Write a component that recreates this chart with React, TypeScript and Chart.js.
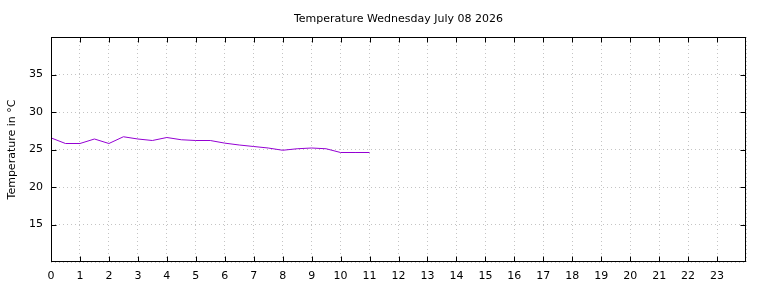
import { useEffect, useRef } from 'react';
import { Chart, registerables } from 'chart.js';

Chart.register(...registerables);

const chartTitle = 'Temperature Wednesday July 08 2026';
const yAxisTitle = 'Temperature in °C';

const hours = [0, 0.5, 1, 1.5, 2, 2.5, 3, 3.5, 4, 4.5, 5, 5.5, 6, 6.5, 7, 7.5, 8, 8.5, 9, 9.5, 10, 10.5, 11];
const temps = [26.55, 25.8, 25.8, 26.4, 25.8, 26.7, 26.4, 26.2, 26.6, 26.3, 26.2, 26.2, 25.85, 25.6, 25.4, 25.2, 24.9, 25.1, 25.2, 25.1, 24.6, 24.6, 24.6];

const xTickValues = [0, 1, 2, 3, 4, 5, 6, 7, 8, 9, 10, 11, 12, 13, 14, 15, 16, 17, 18, 19, 20, 21, 22, 23];
const yTickValues = [15, 20, 25, 30, 35];

const X_MIN = 0;
const X_MAX = 24;
const Y_MIN = 10;
const Y_MAX = 40;

const FONT = 'DejaVu Sans';

const framePlugin = {
  id: 'gnuplotFrame',
  afterDatasetsDraw(chart: any) {
    const { ctx, chartArea: a, scales } = chart;
    const L = Math.round(a.left) + 0.5;
    const R = Math.round(a.right) - 0.5;
    const T = Math.round(a.top) + 0.5;
    const B = Math.round(a.bottom) - 0.5;
    const tl = 5;
    ctx.save();
    ctx.strokeStyle = '#000000';
    ctx.lineWidth = 1;
    ctx.setLineDash([]);
    ctx.beginPath();
    for (const v of xTickValues) {
      if (v === X_MIN) continue;
      const px = Math.round(scales.x.getPixelForValue(v)) + 0.5;
      ctx.moveTo(px, B);
      ctx.lineTo(px, B - tl);
      ctx.moveTo(px, T);
      ctx.lineTo(px, T + tl);
    }
    for (const v of yTickValues) {
      const py = Math.round(scales.y.getPixelForValue(v)) + 0.5;
      ctx.moveTo(L, py);
      ctx.lineTo(L + tl, py);
      ctx.moveTo(R, py);
      ctx.lineTo(R - tl, py);
    }
    ctx.stroke();
    ctx.strokeRect(L, T, R - L, B - T);

    // title centred over the plot area
    ctx.fillStyle = '#000000';
    ctx.font = `11px "${FONT}"`;
    ctx.textAlign = 'center';
    ctx.textBaseline = 'middle';
    ctx.fillText(chartTitle, (a.left + a.right) / 2, 19);
    ctx.restore();
  },
};

export default function App() {
  const canvasRef = useRef<HTMLCanvasElement | null>(null);

  useEffect(() => {
    const canvas = canvasRef.current;
    if (!canvas) return;
    const gridColor = '#c4c4c4';
    const chart = new Chart(canvas, {
      type: 'line',
      data: {
        datasets: [
          {
            data: hours.map((h, i) => ({ x: h, y: temps[i] })),
            borderColor: '#9400d3',
            borderWidth: 1,
            pointRadius: 0,
            tension: 0,
            fill: false,
          },
        ],
      },
      options: {
        animation: false,
        responsive: false,
        devicePixelRatio: 1,
        layout: { padding: { left: 0, right: 22, top: 37, bottom: 0 } },
        plugins: {
          legend: { display: false },
          tooltip: { enabled: false },
          title: { display: false },
        },
        scales: {
          x: {
            type: 'linear',
            min: X_MIN,
            max: X_MAX,
            afterFit: (s: any) => {
              s.height = 26;
            },
            afterBuildTicks: (s: any) => {
              s.ticks = [...xTickValues, X_MAX].map((v) => ({ value: v }));
            },
            border: { display: false, dash: [1, 3] },
            grid: {
              color: gridColor,
              lineWidth: 1,
              drawTicks: false,
              tickLength: 0,
            },
            ticks: {
              color: '#000000',
              font: { family: FONT, size: 11 },
              padding: 8,
              maxRotation: 0,
              autoSkip: false,
              callback: (v: any) => (xTickValues.includes(Number(v)) ? String(v) : ''),
            },
          },
          y: {
            type: 'linear',
            min: Y_MIN,
            max: Y_MAX,
            afterFit: (s: any) => {
              s.width = 51;
            },
            afterBuildTicks: (s: any) => {
              s.ticks = [Y_MIN, ...yTickValues, Y_MAX].map((v) => ({ value: v }));
            },
            border: { display: false, dash: [1, 3] },
            grid: {
              color: gridColor,
              lineWidth: 1,
              drawTicks: false,
              tickLength: 0,
            },
            title: {
              display: true,
              text: yAxisTitle,
              color: '#000000',
              font: { family: FONT, size: 11 },
              padding: { top: 6, bottom: 0 },
            },
            ticks: {
              color: '#000000',
              font: { family: FONT, size: 11 },
              padding: 8,
              autoSkip: false,
              callback: (v: any) => (yTickValues.includes(Number(v)) ? String(v) : ''),
            },
          },
        },
      } as any,
      plugins: [framePlugin],
    });
    return () => chart.destroy();
  }, []);

  return (
    <div style={{ position: 'absolute', left: 0, top: 0, width: 768, height: 288, background: '#ffffff' }}>
      <canvas ref={canvasRef} width={768} height={288} style={{ display: 'block' }} />
    </div>
  );
}
